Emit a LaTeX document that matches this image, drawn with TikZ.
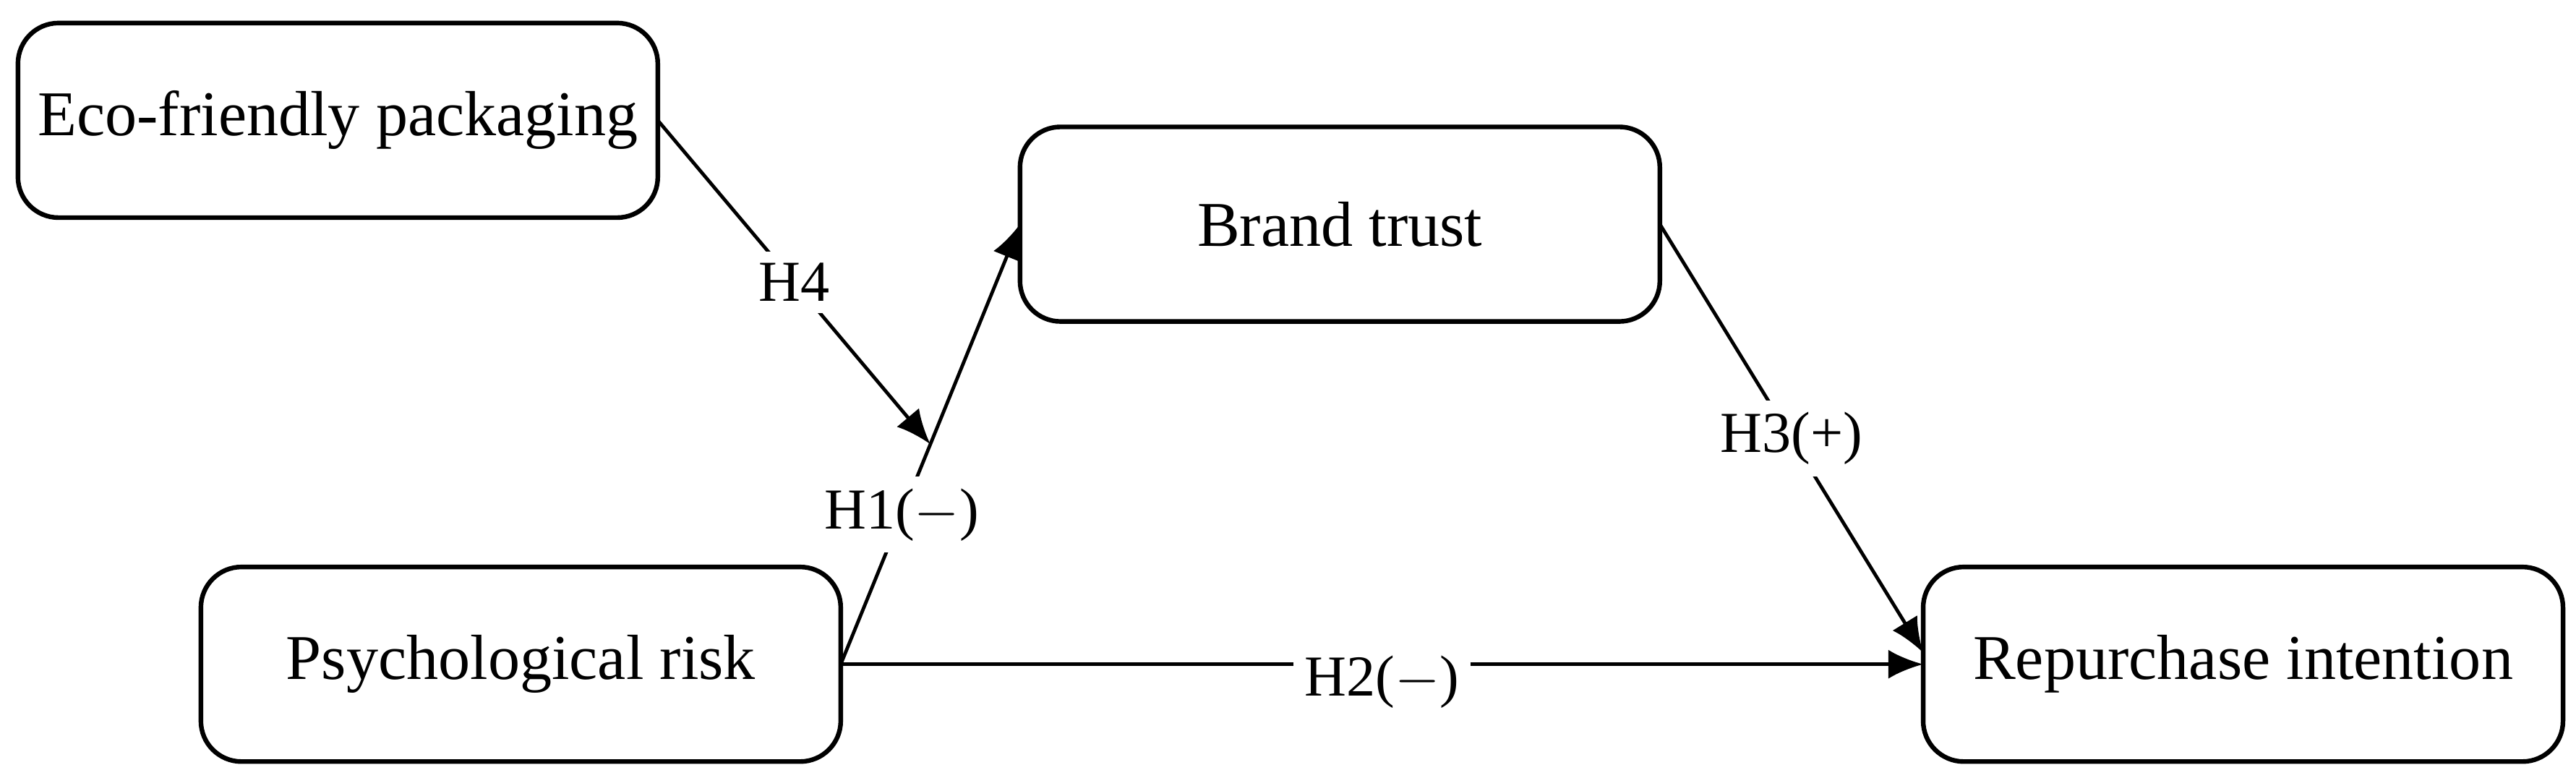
\documentclass[tikz,border=0pt]{standalone}
\usepackage{fontspec}
\setmainfont{Liberation Serif}
\usetikzlibrary{arrows.meta}
\begin{document}
\begin{tikzpicture}[
    x=0.01cm, y=-0.01cm,
    boxnode/.style={rectangle, draw=black, thick, rounded corners=7pt, minimum width=3.88cm, minimum height=1.18cm, outer sep=0pt, font=\fontsize{11}{13}\selectfont},
    labnode/.style={fill=white, inner sep=2pt, font=\fontsize{10}{12}\selectfont},
    arr/.style={-{Latex[length=6pt,width=5pt]}, semithick}
  ]
  \useasboundingbox (0,0) rectangle (1563,472);

  %Nodes
  \node[boxnode] at (205,73) (eco) {Eco-friendly packaging};
  \node[boxnode] at (813,136) (trust) {Brand trust};
  \node[boxnode] at (316,403) (risk) {Psychological risk};
  \node[boxnode] at (1361,403) (rep) {Repurchase intention};

  %Lines
  \draw[arr] (risk.east) -- (trust.west) node[labnode, pos=0.34] {H1($-$)};
  \path (risk.east) -- (trust.west) coordinate[pos=0.5] (mod);
  \draw[arr] (risk.east) -- (rep.west) node[labnode, midway, yshift=-3pt] {H2($-$)};
  \draw[arr] (trust.east) -- ([yshift=2pt]rep.west) node[labnode, midway] {H3(+)};
  \draw[arr] (eco.east) -- (mod) node[labnode, midway] {H4};

\end{tikzpicture}
\end{document}
